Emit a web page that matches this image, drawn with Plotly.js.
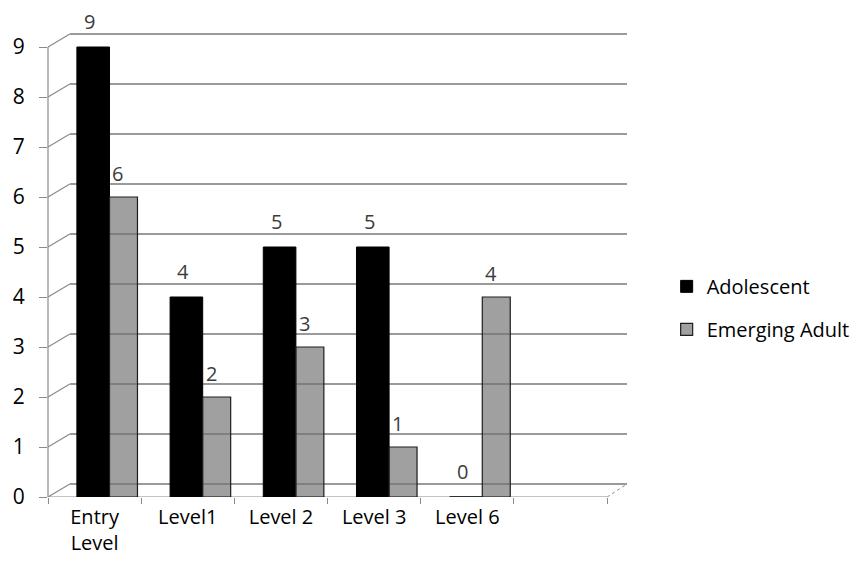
<!DOCTYPE html>
<html>
<head>
<meta charset="utf-8">
<script src="https://cdn.plot.ly/plotly-3.0.1.min.js"></script>
<style>
  html, body { margin: 0; padding: 0; background: #fff; }
  #chart { width: 867px; height: 585px; }
</style>
</head>
<body>
<div id="chart"></div>
<script>
// Category labels (the sixth slot is an empty spacer on the floor)
const categories = ["Entry<br>Level", "Level1", "Level 2", "Level 3", "Level 6", " "];
const barCategories = ["Entry<br>Level", "Level1", "Level 2", "Level 3", "Level 6"];

// Series values
const adolescent = [9, 4, 5, 5, 0];
const emergingAdult = [6, 2, 3, 1, 4];

// Value-axis ticks
const yTicks = [0, 1, 2, 3, 4, 5, 6, 7, 8, 9];

const FONT = "Open Sans, Liberation Sans, sans-serif";
const depth = 0.26;          // vertical shift of the back wall, in value units
const axisGray = "#8a8a8a";

const traces = [
  // empty trace that creates the back-wall subplot carrying the gridlines
  { type: "scatter", x: [], y: [], xaxis: "x", yaxis: "y",
    showlegend: false, hoverinfo: "skip" },
  { type: "bar", name: "Adolescent", x: barCategories, y: adolescent,
    xaxis: "x2", yaxis: "y2", offset: -0.19, width: 0.35,
    legendgroup: "a",
    marker: { color: "#000000", line: { color: "#000000", width: 1 } } },
  // translucent grey, so the back-wall gridlines show through
  { type: "bar", name: "Emerging Adult", x: barCategories, y: emergingAdult,
    xaxis: "x2", yaxis: "y2", offset: 0.16, width: 0.30,
    legendgroup: "b",
    marker: { color: "rgba(115,115,115,0.68)", line: { color: "#1e1e1e", width: 1.2 } } }
];

// value labels above each bar
const annotations = [];
const labelFont = { family: FONT, size: 20, color: "#3c3c3c" };
barCategories.forEach((c, i) => {
  annotations.push({ xref: "x2", yref: "y2", x: i - 0.05, y: adolescent[i],
    text: String(adolescent[i]), showarrow: false, yanchor: "middle",
    yshift: 26, font: labelFont });
  annotations.push({ xref: "x2", yref: "y2", x: i + 0.25, y: emergingAdult[i],
    text: String(emergingAdult[i]), showarrow: false, yanchor: "middle",
    yshift: 24, font: labelFont });
});

// depth connectors from the front value axis to the back wall
const plotW = 867 - 48 - 235;
const wallX = 22 / plotW;
const shapes = yTicks.map(t => ({
  type: "line", layer: "below", xref: "paper", yref: "y2",
  x0: 0, x1: wallX, y0: t, y1: t + depth,
  line: { color: axisGray, width: 1.2 }
}));
// front value axis line
shapes.push({ type: "line", layer: "below", xref: "x2 domain", yref: "y2",
  x0: 0, x1: 0, y0: yTicks[0], y1: yTicks[yTicks.length - 1],
  line: { color: axisGray, width: 1.2 } });
// front floor edge
shapes.push({ type: "line", layer: "below", xref: "x2", yref: "y2",
  x0: -0.5, x1: categories.length - 0.5, y0: 0, y1: 0,
  line: { color: axisGray, width: 1.2 } });
// right floor corner
shapes.push({ type: "line", layer: "below", xref: "x2", yref: "y2",
  x0: categories.length - 0.5, x1: categories.length - 0.5 + 20 / 94, y0: 0, y1: depth,
  line: { color: axisGray, width: 1, dash: "dot" } });

const layout = {
  width: 867, height: 585,
  margin: { l: 48, r: 235, t: 30, b: 88 },
  paper_bgcolor: "#ffffff",
  plot_bgcolor: "rgba(0,0,0,0)",
  font: { family: FONT, size: 20, color: "#000" },
  barmode: "overlay",
  showlegend: true,
  legend: {
    x: (672 - 48) / plotW, xanchor: "left",
    y: 0.405, yanchor: "middle",
    traceorder: "grouped", tracegroupgap: 14,
    font: { family: FONT, size: 20, color: "#000" },
    bgcolor: "rgba(0,0,0,0)"
  },
  // back wall with gridlines
  xaxis: { domain: [wallX, 1], range: [0, 1], visible: false, fixedrange: true },
  yaxis: { domain: [0, 1], anchor: "x", range: [-depth, 9.34 - depth],
    tickvals: yTicks, showticklabels: false, ticks: "",
    showgrid: true, gridcolor: "#9a9a9a", gridwidth: 1.3,
    zeroline: false, showline: false },
  // front axes carrying the bars
  xaxis2: { domain: [0, 1], anchor: "y2", type: "category",
    categoryorder: "array", categoryarray: categories,
    range: [-0.5, categories.length - 0.5 + 20 / 94],
    tickson: "boundaries", ticks: "outside", ticklen: 6, tickcolor: axisGray,
    showline: false, showgrid: false, zeroline: false,
    ticklabelstandoff: 6,
    tickfont: { family: FONT, size: 20, color: "#000" } },
  yaxis2: { domain: [0, 1], anchor: "x2", range: [0, 9.34],
    tickvals: yTicks, ticks: "outside", ticklen: 8, tickcolor: axisGray,
    showline: false, showgrid: false, zeroline: false,
    ticklabelstandoff: 10,
    tickfont: { family: FONT, size: 21, color: "#000" } },
  annotations: annotations,
  shapes: shapes
};

Plotly.newPlot("chart", traces, layout, { displayModeBar: false, staticPlot: true });
</script>
</body>
</html>
